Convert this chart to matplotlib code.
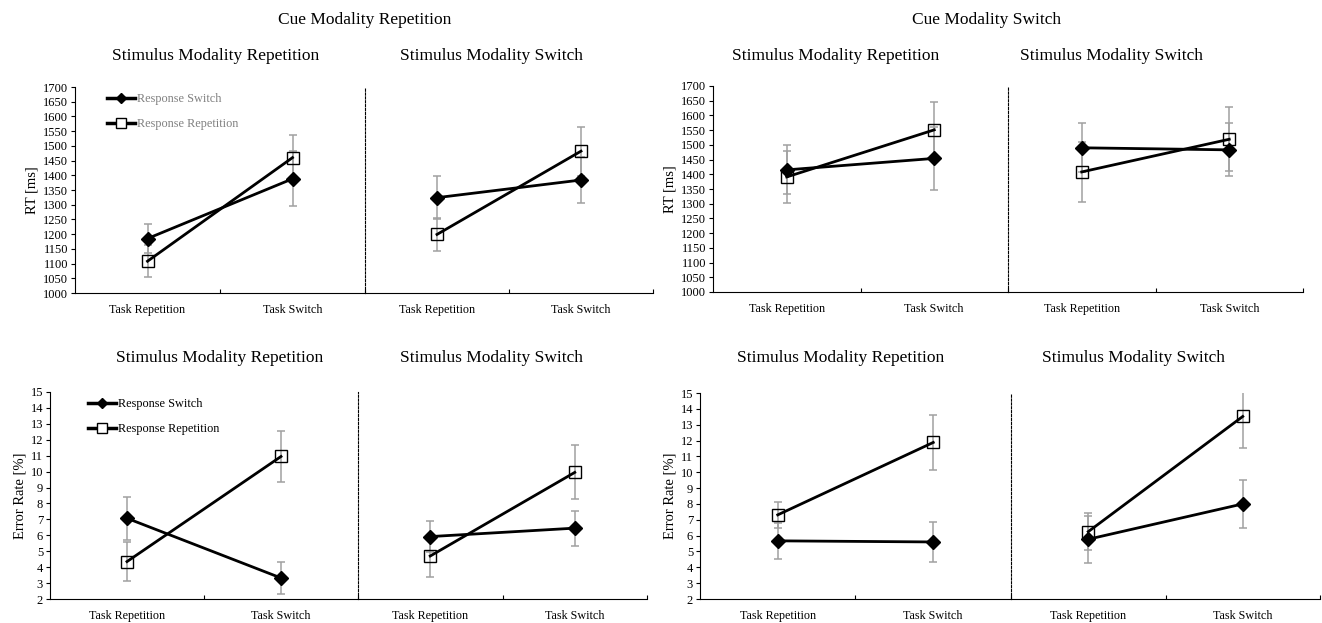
import matplotlib
matplotlib.use('Agg')
import matplotlib.pyplot as plt
from matplotlib.lines import Line2D

plt.rcParams['font.family'] = ['Liberation Serif', 'DejaVu Serif']

# ---- data ----
categories = ["Task Repetition", "Task Switch"]
series_names = ["Response Switch", "Response Repetition"]

# RT [ms]
rt_cmr_smr_switch = [1185, 1388]
rt_cmr_smr_switch_err = [50, 93]
rt_cmr_smr_rep = [1108, 1460]
rt_cmr_smr_rep_err = [55, 78]

rt_cmr_sms_switch = [1324, 1384]
rt_cmr_sms_switch_err = [73, 77]
rt_cmr_sms_rep = [1199, 1482]
rt_cmr_sms_rep_err = [55, 83]

rt_cms_smr_switch = [1415, 1454]
rt_cms_smr_switch_err = [83, 107]
rt_cms_smr_rep = [1391, 1551]
rt_cms_smr_rep_err = [88, 95]

rt_cms_sms_switch = [1490, 1483]
rt_cms_sms_switch_err = [83, 90]
rt_cms_sms_rep = [1408, 1519]
rt_cms_sms_rep_err = [103, 108]

# Error rate [%]
er_cmr_smr_switch = [7.07, 3.32]
er_cmr_smr_switch_err = [1.35, 1.0]
er_cmr_smr_rep = [4.35, 10.95]
er_cmr_smr_rep_err = [1.2, 1.6]

er_cmr_sms_switch = [5.92, 6.45]
er_cmr_sms_switch_err = [0.95, 1.1]
er_cmr_sms_rep = [4.70, 9.95]
er_cmr_sms_rep_err = [1.3, 1.7]

er_cms_smr_switch = [5.67, 5.60]
er_cms_smr_switch_err = [1.15, 1.27]
er_cms_smr_rep = [7.31, 11.88]
er_cms_smr_rep_err = [0.8, 1.76]

er_cms_sms_switch = [5.77, 8.0]
er_cms_sms_switch_err = [1.47, 1.5]
er_cms_sms_rep = [6.25, 13.52]
er_cms_sms_rep_err = [1.15, 1.96]

W, H = 1322, 623
fig = plt.figure(figsize=(W / 100, H / 100), dpi=100)


def px_axes(x0, x1, ytop, ybot):
    return fig.add_axes([x0 / W, (H - ybot) / H, (x1 - x0) / W, (ybot - ytop) / H])


def draw(ax, sw, sw_err, rep, rep_err, ylim, yticks, first, ylabel=None):
    x = [0, 1]
    ax.errorbar(x, sw, yerr=sw_err, fmt='none', ecolor='#a0a0a0', elinewidth=1.1,
                capsize=3, capthick=1.1, zorder=3)
    ax.errorbar(x, rep, yerr=rep_err, fmt='none', ecolor='#a0a0a0', elinewidth=1.1,
                capsize=3, capthick=1.1, zorder=3)
    ax.plot(x, sw, color='black', lw=2, marker='D', ms=7, mfc='black', mec='black', zorder=4)
    ax.plot(x, rep, color='black', lw=2, marker='s', ms=8, mfc='none', mec='black',
            mew=1, zorder=4)
    ax.set_xlim(-0.5, 1.5)
    ax.set_ylim(*ylim)
    ax.set_xticks(x)
    ax.set_xticklabels(categories, fontsize=8.7)
    ax.tick_params(axis='x', length=0, pad=8)
    ax.set_xticks([0.5, 1.5], minor=True)
    ax.tick_params(axis='x', which='minor', direction='in', length=3, width=0.8)
    for s in ['top', 'right']:
        ax.spines[s].set_visible(False)
    ax.spines['bottom'].set_linewidth(0.8)
    ax.spines['left'].set_linewidth(0.8)
    ax.set_facecolor('none')
    if first:
        ax.set_yticks(yticks)
        ax.tick_params(axis='y', labelsize=9, length=3, width=0.8, pad=2)
        if ylabel:
            ax.set_ylabel(ylabel, fontsize=10.5, labelpad=3)
    else:
        ax.set_yticks([])
        ax.spines['left'].set_linestyle((0, (2, 1.5)))
        ax.spines['left'].set_linewidth(0.8)


rt_lim = (1000, 1700)
rt_ticks = list(range(1000, 1701, 50))
er_lim = (2, 15)
er_ticks = list(range(2, 16))

# top-left: Cue Modality Repetition, RT
a1 = px_axes(75, 365, 87, 293)
draw(a1, rt_cmr_smr_switch, rt_cmr_smr_switch_err, rt_cmr_smr_rep, rt_cmr_smr_rep_err,
     rt_lim, rt_ticks, True, "RT [ms]")
a2 = px_axes(365, 653, 87, 293)
draw(a2, rt_cmr_sms_switch, rt_cmr_sms_switch_err, rt_cmr_sms_rep, rt_cmr_sms_rep_err,
     rt_lim, rt_ticks, False)

# top-right: Cue Modality Switch, RT
a3 = px_axes(713, 1008, 86, 292)
draw(a3, rt_cms_smr_switch, rt_cms_smr_switch_err, rt_cms_smr_rep, rt_cms_smr_rep_err,
     rt_lim, rt_ticks, True, "RT [ms]")
a4 = px_axes(1008, 1303, 86, 292)
draw(a4, rt_cms_sms_switch, rt_cms_sms_switch_err, rt_cms_sms_rep, rt_cms_sms_rep_err,
     rt_lim, rt_ticks, False)

# bottom-left: Cue Modality Repetition, errors
b1 = px_axes(50, 358, 392, 599)
draw(b1, er_cmr_smr_switch, er_cmr_smr_switch_err, er_cmr_smr_rep, er_cmr_smr_rep_err,
     er_lim, er_ticks, True, "Error Rate [%]")
b2 = px_axes(358, 647, 392, 599)
draw(b2, er_cmr_sms_switch, er_cmr_sms_switch_err, er_cmr_sms_rep, er_cmr_sms_rep_err,
     er_lim, er_ticks, False)

# bottom-right: Cue Modality Switch, errors
b3 = px_axes(700, 1011, 393, 599)
draw(b3, er_cms_smr_switch, er_cms_smr_switch_err, er_cms_smr_rep, er_cms_smr_rep_err,
     er_lim, er_ticks, True, "Error Rate [%]")
b4 = px_axes(1011, 1320, 393, 599)
draw(b4, er_cms_sms_switch, er_cms_sms_switch_err, er_cms_sms_rep, er_cms_sms_rep_err,
     er_lim, er_ticks, False)

# legends
handles = [Line2D([], [], color='black', lw=2.5, marker='D', ms=5),
           Line2D([], [], color='black', lw=2.5, marker='s', ms=7, mfc='white')]
a1.legend(handles, series_names, loc='upper left', bbox_to_anchor=(0.11, 0.97),
          frameon=False, fontsize=8.8, handlelength=2.3, handletextpad=0.15,
          labelspacing=1.05, borderpad=0, borderaxespad=0, labelcolor='#808080')
b1.legend(handles, series_names, loc='upper left', bbox_to_anchor=(0.123, 0.97),
          frameon=False, fontsize=8.8, handlelength=2.3, handletextpad=0.15,
          labelspacing=1.05, borderpad=0, borderaxespad=0, labelcolor='black')

# titles
fig.text(365 / W, 1 - 20 / H, "Cue Modality Repetition", ha='center', va='center', fontsize=12.5)
fig.text(987 / W, 1 - 20 / H, "Cue Modality Switch", ha='center', va='center', fontsize=12.5)
for xc, yc, t in [(216, 56, "Stimulus Modality Repetition"), (492, 56, "Stimulus Modality Switch"),
                  (836, 56, "Stimulus Modality Repetition"), (1111, 56, "Stimulus Modality Switch"),
                  (220, 358, "Stimulus Modality Repetition"), (491, 358, "Stimulus Modality Switch"),
                  (841, 358, "Stimulus Modality Repetition"), (1134, 358, "Stimulus Modality Switch")]:
    fig.text(xc / W, 1 - yc / H, t, ha='center', va='center', fontsize=12.5)

fig.savefig("out.png", dpi=100)
